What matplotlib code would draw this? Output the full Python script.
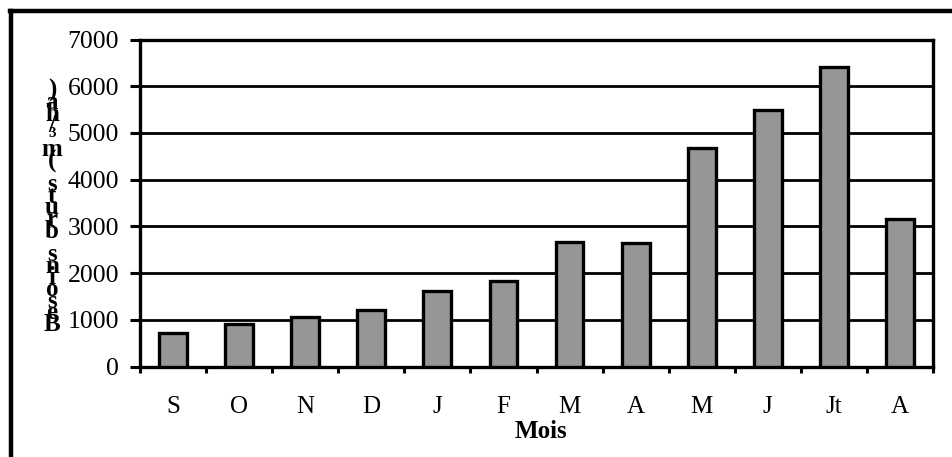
import matplotlib
matplotlib.use("Agg")
import matplotlib.pyplot as plt
from matplotlib.lines import Line2D
import numpy as np

# Données
mois = ["S", "O", "N", "D", "J", "F", "M", "A", "M", "J", "Jt", "A"]
besoins = [720, 900, 1060, 1210, 1620, 1830, 2670, 2640, 4670, 5500, 6420, 3160]
y_ticks = [0, 1000, 2000, 3000, 4000, 5000, 6000, 7000]
titre_y = "Besoins bruts (m³/ha)"

plt.rcParams["font.family"] = ["Liberation Serif", "DejaVu Serif"]

fig = plt.figure(figsize=(9.52, 4.57), dpi=100)
ax = fig.add_axes([140 / 952, 1 - 366.5 / 457, (933 - 140) / 952, 327 / 457])

x = np.arange(len(mois))
ax.bar(x, besoins, width=0.42, color="#969696", edgecolor="black", linewidth=2.4, zorder=3)

ax.set_xlim(-0.5, len(mois) - 0.5)
ax.set_ylim(0, 7000)
ax.set_yticks(y_ticks)
ax.set_yticklabels([str(v) for v in y_ticks], fontsize=18.5)
ax.set_xticks(x)
ax.set_xticklabels(mois, fontsize=18)
ax.set_xticks(np.arange(len(mois) + 1) - 0.5, minor=True)

ax.tick_params(axis="x", which="major", length=0, pad=21)
ax.tick_params(axis="x", which="minor", length=4, width=2.2, direction="out")
ax.tick_params(axis="y", length=7, width=2.2, direction="out", pad=8)

ax.yaxis.grid(True, color="black", linewidth=2.0, zorder=1)
ax.set_axisbelow(True)
for s in ax.spines.values():
    s.set_linewidth(2.4)

ax.set_xlabel("Mois", fontsize=18, fontweight="bold")
ax.xaxis.set_label_coords(0.505, -0.163)

# titre de l'axe y : lettres empilées
fig.text(0.0546, 1 - 207.5 / 457, "\n".join(reversed(titre_y)), fontsize=18,
         fontweight="bold", ha="center", va="center", linespacing=0.37)

# cadre extérieur
fig.add_artist(Line2D([10 / 952, 1], [1 - 11 / 457, 1 - 11 / 457], color="black", lw=3.2,
                      transform=fig.transFigure))
fig.add_artist(Line2D([11 / 952, 11 / 952], [0, 1 - 11 / 457], color="black", lw=3.2,
                      transform=fig.transFigure))

fig.savefig("out.png", dpi=100)
